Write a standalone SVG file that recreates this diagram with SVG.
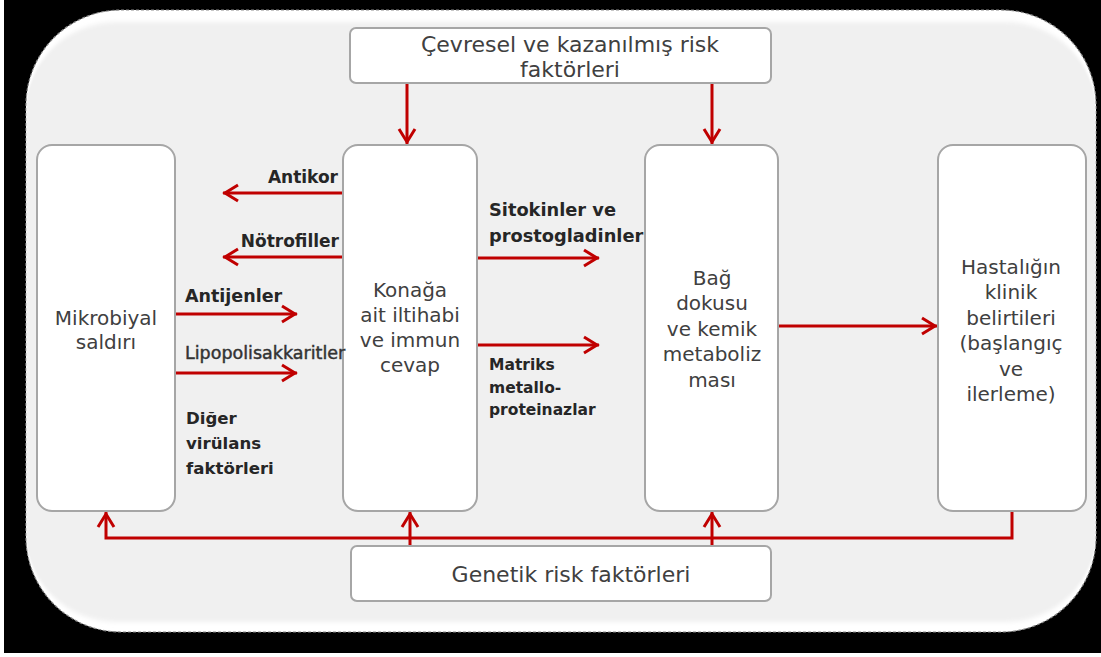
<svg xmlns="http://www.w3.org/2000/svg" width="1101" height="657" viewBox="0 0 1101 657">
  <defs>
    <marker id="ah" markerUnits="userSpaceOnUse" markerWidth="24" markerHeight="24" viewBox="-18 -12 24 24" refX="0" refY="0" orient="auto" overflow="visible">
      <path d="M-15,-8 L-2,0 L-15,8" fill="none" stroke="#c00000" stroke-width="3" stroke-linejoin="miter"/>
    </marker>
    <filter id="soft" x="-5%" y="-5%" width="110%" height="110%">
      <feGaussianBlur stdDeviation="0.5 2.5"/>
    </filter>
  </defs>
  <style>
    .box { fill: #ffffff; stroke: #a6a6a6; stroke-width: 2; }
    .conn { fill: none; stroke: #c00000; stroke-width: 3; }
    .t { font-family: "DejaVu Sans", sans-serif; font-size: 20px; fill: #404040; text-anchor: middle; }
    .big { font-size: 22px; }
    .b { font-family: "DejaVu Sans", sans-serif; font-weight: bold; font-size: 17px; fill: #262626; }
    .end { text-anchor: end; }
  </style>

  <rect x="0" y="0" width="1101" height="657" fill="#ffffff"/>
  <rect x="4" y="0" width="1097" height="653" fill="#000000"/>

  <g id="frame">
    <rect x="26" y="10" width="1070" height="622" rx="95" ry="95" fill="#ffffff" stroke="#8c8c8c" stroke-width="1.2" stroke-dasharray="3 2"/>
    <rect x="26.5" y="22" width="1069" height="600" rx="90" ry="88" fill="#f0f0f0" filter="url(#soft)"/>
  </g>

  <g id="connectors">
    <path class="conn" d="M407,84 V144" marker-end="url(#ah)"/>
    <path class="conn" d="M712,84 V144" marker-end="url(#ah)"/>
    <path class="conn" d="M343,193 H223" marker-end="url(#ah)"/>
    <path class="conn" d="M343,257 H223" marker-end="url(#ah)"/>
    <path class="conn" d="M176,314 H297" marker-end="url(#ah)"/>
    <path class="conn" d="M176,373 H297" marker-end="url(#ah)"/>
    <path class="conn" d="M477,258 H599" marker-end="url(#ah)"/>
    <path class="conn" d="M477,345 H599" marker-end="url(#ah)"/>
    <path class="conn" d="M778,326 H937" marker-end="url(#ah)"/>
    <path class="conn" d="M1012,511 V538 H106 V512" marker-end="url(#ah)"/>
    <path class="conn" d="M410,546 V512" marker-end="url(#ah)"/>
    <path class="conn" d="M712,546 V512" marker-end="url(#ah)"/>
  </g>

  <g id="cevresel">
    <rect class="box" x="350" y="28" width="421" height="55" rx="6"/>
    <text class="t big" x="570" y="52">Çevresel ve kazanılmış risk</text>
    <text class="t big" x="570" y="77">faktörleri</text>
  </g>

  <g id="mikrobiyal">
    <rect class="box" x="37" y="145" width="138" height="366" rx="15"/>
    <text class="t" x="106" y="325">Mikrobiyal</text>
    <text class="t" x="106" y="349">saldırı</text>
  </g>

  <g id="konak">
    <rect class="box" x="343" y="145" width="134" height="366" rx="15"/>
    <text class="t" x="410" y="297">Konağa</text>
    <text class="t" x="410" y="322">ait iltihabi</text>
    <text class="t" x="410" y="347">ve immun</text>
    <text class="t" x="410" y="372">cevap</text>
  </g>

  <g id="bag">
    <rect class="box" x="645" y="145" width="133" height="366" rx="15"/>
    <text class="t" x="712" y="285">Bağ</text>
    <text class="t" x="712" y="310">dokusu</text>
    <text class="t" x="712" y="336">ve kemik</text>
    <text class="t" x="712" y="361">metaboliz</text>
    <text class="t" x="712" y="387">ması</text>
  </g>

  <g id="hastalik">
    <rect class="box" x="938" y="145" width="148" height="366" rx="15"/>
    <text class="t" x="1011" y="274">Hastalığın</text>
    <text class="t" x="1011" y="299">klinik</text>
    <text class="t" x="1011" y="325">belirtileri</text>
    <text class="t" x="1011" y="350">(başlangıç</text>
    <text class="t" x="1011" y="376">ve</text>
    <text class="t" x="1011" y="401">ilerleme)</text>
  </g>

  <g id="genetik">
    <rect class="box" x="351" y="546" width="420" height="55" rx="6"/>
    <text class="t big" x="571" y="582">Genetik risk faktörleri</text>
  </g>

  <g id="labels">
    <text class="b end" x="338" y="183">Antikor</text>
    <text class="b end" x="339" y="247">Nötrofiller</text>
    <text class="b" x="185" y="302" style="font-size:17.5px">Antijenler</text>
    <text x="185" y="359" font-family="DejaVu Sans, sans-serif" font-size="17.5" fill="#333333" stroke="#333333" stroke-width="0.45">Lipopolisakkaritler</text>
    <text class="b" x="186" y="424" style="font-size:16.6px">Diğer</text>
    <text class="b" x="186" y="449" style="font-size:16.6px">virülans</text>
    <text class="b" x="186" y="474" style="font-size:16.6px">faktörleri</text>
    <text class="b" x="489" y="216" style="font-size:17.8px">Sitokinler ve</text>
    <text class="b" x="489" y="242" style="font-size:17.8px">prostogladinler</text>
    <text class="b" x="489" y="370" style="font-size:15.5px">Matriks</text>
    <text class="b" x="489" y="393" style="font-size:15.5px">metallo-</text>
    <text class="b" x="489" y="415" style="font-size:15.5px">proteinazlar</text>
  </g>
</svg>
